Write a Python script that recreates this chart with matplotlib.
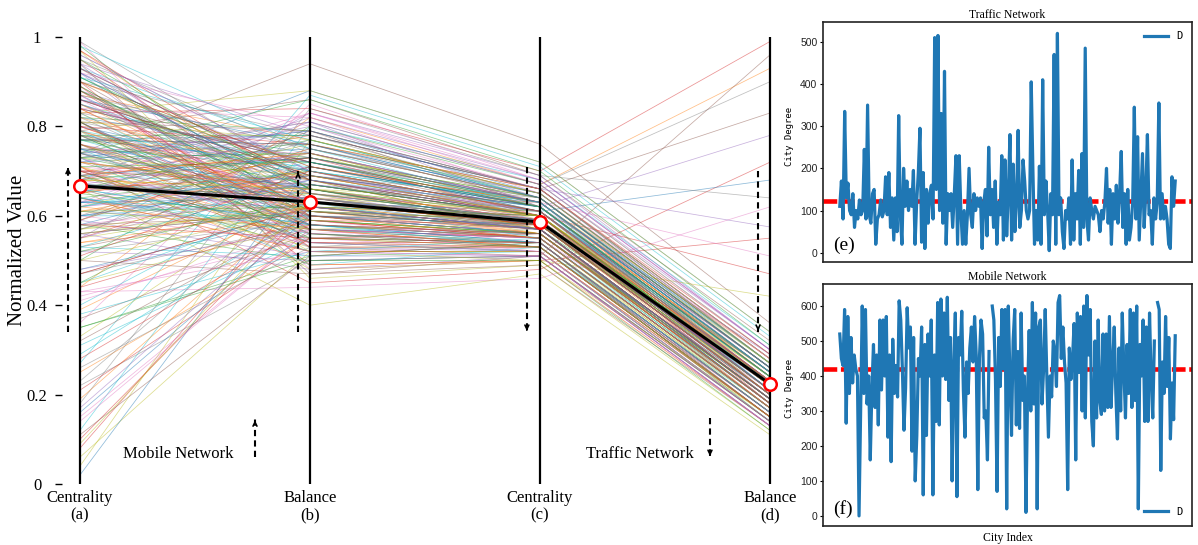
import numpy as np
import matplotlib
matplotlib.use("Agg")
import matplotlib.pyplot as plt
from matplotlib.font_manager import FontProperties

# ---------------- data ----------------
axis_labels = ["Centrality\n(a)", "Balance\n(b)", "Centrality\n(c)", "Balance\n(d)"]
ytick_values = [0, 0.2, 0.4, 0.6, 0.8, 1]
ytick_labels = ["0", "0.2", "0.4", "0.6", "0.8", "1"]

centrality_mobile = [
    0.77, 0.69, 0.91, 0.95, 0.88, 0.72, 0.64, 0.81, 0.55, 0.12,
    0.86, 0.70, 0.58, 0.83, 0.60, 0.47, 0.99, 0.74, 0.66, 0.31,
    0.68, 0.44, 0.85, 0.08, 0.92, 0.79, 0.63, 0.52, 0.97, 0.75,
    0.67, 0.19, 0.82, 0.71, 0.62, 0.89, 0.36, 0.78, 0.57, 0.93,
    0.96, 0.80, 0.69, 0.65, 0.76, 0.50, 0.87, 0.73, 0.04, 0.60,
    0.77, 0.61, 0.98, 0.90, 0.55, 0.74, 0.42, 0.84, 0.66, 0.27,
    0.67, 0.76, 0.45, 0.72, 0.63, 0.81, 0.15, 0.70, 0.88, 0.53,
    0.82, 0.71, 0.50, 0.86, 0.59, 0.94, 0.68, 0.78, 0.33, 0.64,
    0.66, 0.39, 0.75, 0.10, 0.73, 0.85, 0.62, 0.57, 0.79, 0.91,
    0.48, 0.87, 0.70, 0.68, 0.84, 0.56, 0.92, 0.22, 0.77, 0.63,
    0.80, 0.54, 0.73, 0.81, 0.65, 0.74, 0.58, 0.95, 0.06, 0.69,
    0.72, 0.97, 0.64, 0.89, 0.61, 0.77, 0.43, 0.67, 0.83, 0.29,
    0.93, 0.71, 0.66, 0.76, 0.52, 0.86, 0.69, 0.18, 0.79, 0.60,
    0.02, 0.68, 0.81, 0.84, 0.74, 0.37, 0.62, 0.88, 0.56, 0.78,
    0.63, 0.25, 0.78, 0.70, 0.59, 0.90, 0.75, 0.47, 0.66, 0.85,
    0.58, 0.83, 0.91, 0.47, 0.69, 0.76, 0.14, 0.88, 0.62, 0.73,
    0.79, 0.65, 0.35, 0.97, 0.72, 0.53, 0.86, 0.60, 0.81, 0.40,
    0.67, 0.90, 0.74, 0.21, 0.56, 0.84, 0.70, 0.93, 0.45, 0.62,
    0.87, 0.59, 0.78, 0.66, 0.94, 0.11, 0.71, 0.82, 0.50, 0.75,
    0.73, 0.64, 0.89, 0.55, 0.80, 0.32, 0.68, 0.99, 0.61, 0.77,
    0.60, 0.85, 0.73, 0.44, 0.92, 0.69, 0.79, 0.26, 0.65, 0.83,
    0.77, 0.54, 0.95, 0.70, 0.63, 0.86, 0.41, 0.74, 0.57, 0.91,
    0.16, 0.82, 0.68, 0.88, 0.75, 0.59, 0.96, 0.64, 0.72, 0.38,
    0.81, 0.69, 0.52, 0.93, 0.66, 0.78, 0.84, 0.23, 0.71, 0.62,
    0.74, 0.90, 0.61, 0.80, 0.48, 0.67, 0.87, 0.57, 0.76, 0.98,
    0.63, 0.79, 0.35, 0.70, 0.85, 0.58, 0.73, 0.90, 0.09, 0.66,
    0.86, 0.72, 0.65, 0.51, 0.94, 0.78, 0.60, 0.83, 0.69, 0.45,
    0.75, 0.61, 0.88, 0.28, 0.67, 0.81, 0.92, 0.56, 0.73, 0.64,
    0.69, 0.84, 0.77, 0.58, 0.17, 0.90, 0.66, 0.74, 0.81, 0.53,
    0.92, 0.62, 0.71, 0.80, 0.55, 0.76, 0.43, 0.87, 0.68, 0.79,
]
balance_mobile = [
    0.78, 0.74, 0.66, 0.60, 0.72, 0.58, 0.52, 0.70, 0.63, 0.80,
    0.69, 0.57, 0.50, 0.84, 0.68, 0.62, 0.48, 0.76, 0.65, 0.55,
    0.88, 0.82, 0.64, 0.67, 0.54, 0.86, 0.73, 0.59, 0.46, 0.71,
    0.61, 0.64, 0.79, 0.45, 0.67, 0.60, 0.85, 0.56, 0.61, 0.75,
    0.70, 0.62, 0.52, 0.73, 0.66, 0.47, 0.58, 0.81, 0.77, 0.64,
    0.76, 0.66, 0.59, 0.49, 0.83, 0.61, 0.55, 0.72, 0.53, 0.87,
    0.65, 0.58, 0.71, 0.66, 0.60, 0.79, 0.57, 0.68, 0.63, 0.51,
    0.74, 0.54, 0.80, 0.69, 0.75, 0.47, 0.60, 0.70, 0.67, 0.56,
    0.58, 0.64, 0.72, 0.62, 0.53, 0.68, 0.83, 0.71, 0.48, 0.66,
    0.60, 0.77, 0.55, 0.78, 0.72, 0.61, 0.65, 0.50, 0.73, 0.62,
    0.69, 0.59, 0.63, 0.57, 0.82, 0.94, 0.64, 0.74, 0.52, 0.67,
    0.75, 0.62, 0.70, 0.53, 0.58, 0.76, 0.44, 0.66, 0.88, 0.61,
    0.68, 0.49, 0.77, 0.63, 0.50, 0.72, 0.57, 0.84, 0.65, 0.60,
    0.71, 0.66, 0.55, 0.59, 0.79, 0.56, 0.69, 0.62, 0.62, 0.73,
    0.64, 0.55, 0.78, 0.67, 0.51, 0.61, 0.74, 0.58, 0.40, 0.70,
    0.71, 0.59, 0.68, 0.62, 0.80, 0.54, 0.57, 0.65, 0.74, 0.49,
    0.57, 0.73, 0.51, 0.66, 0.81, 0.63, 0.60, 0.77, 0.52, 0.67,
    0.64, 0.69, 0.86, 0.55, 0.48, 0.72, 0.59, 0.62, 0.58, 0.70,
    0.63, 0.75, 0.56, 0.69, 0.78, 0.51, 0.66, 0.60, 0.62, 0.54,
    0.79, 0.52, 0.61, 0.71, 0.65, 0.60, 0.83, 0.68, 0.57, 0.63,
    0.67, 0.61, 0.74, 0.59, 0.70, 0.56, 0.64, 0.53, 0.76, 0.58,
    0.72, 0.62, 0.66, 0.54, 0.81, 0.69, 0.57, 0.60, 0.65, 0.77,
    0.60, 0.68, 0.73, 0.57, 0.63, 0.79, 0.70, 0.55, 0.66, 0.52,
    0.58, 0.74, 0.64, 0.68, 0.52, 0.61, 0.82, 0.67, 0.59, 0.72,
    0.66, 0.71, 0.62, 0.76, 0.57, 0.64, 0.59, 0.69, 0.61, 0.75,
    0.69, 0.63, 0.50, 0.73, 0.67, 0.60, 0.56, 0.78, 0.64, 0.58,
    0.76, 0.65, 0.59, 0.70, 0.62, 0.68, 0.54, 0.73, 0.57, 0.63,
    0.62, 0.70, 0.66, 0.58, 0.74, 0.53, 0.80, 0.61, 0.69, 0.57,
    0.73, 0.60, 0.67, 0.55, 0.62, 0.71, 0.64, 0.58, 0.77, 0.68,
    0.65, 0.57, 0.72, 0.63, 0.68, 0.60, 0.52, 0.75, 0.66, 0.70,
]
centrality_traffic = [
    0.66, 0.63, 0.60, 0.56, 0.64, 0.55, 0.53, 0.61, 0.58, 0.68,
    0.62, 0.55, 0.51, 0.70, 0.60, 0.57, 0.50, 0.65, 0.59, 0.54,
    0.72, 0.67, 0.58, 0.60, 0.53, 0.69, 0.63, 0.56, 0.49, 0.62,
    0.57, 0.59, 0.66, 0.48, 0.60, 0.56, 0.68, 0.54, 0.57, 0.64,
    0.61, 0.57, 0.52, 0.63, 0.59, 0.49, 0.55, 0.67, 0.65, 0.58,
    0.64, 0.58, 0.56, 0.50, 0.69, 0.57, 0.52, 0.62, 0.53, 0.71,
    0.59, 0.55, 0.62, 0.59, 0.56, 0.66, 0.54, 0.60, 0.58, 0.52,
    0.63, 0.53, 0.67, 0.60, 0.64, 0.51, 0.56, 0.61, 0.60, 0.54,
    0.55, 0.58, 0.63, 0.57, 0.52, 0.61, 0.68, 0.62, 0.50, 0.59,
    0.56, 0.65, 0.54, 0.66, 0.62, 0.57, 0.59, 0.51, 0.64, 0.58,
    0.61, 0.55, 0.58, 0.55, 0.68, 0.76, 0.58, 0.63, 0.52, 0.60,
    0.65, 0.56, 0.60, 0.53, 0.55, 0.63, 0.46, 0.58, 0.72, 0.57,
    0.60, 0.50, 0.64, 0.58, 0.51, 0.62, 0.55, 0.69, 0.59, 0.56,
    0.62, 0.59, 0.53, 0.55, 0.66, 0.54, 0.61, 0.57, 0.57, 0.63,
    0.58, 0.53, 0.66, 0.60, 0.51, 0.57, 0.63, 0.56, 0.47, 0.61,
    0.62, 0.58, 0.57, 0.60, 0.64, 0.52, 0.55, 0.61, 0.59, 0.53,
    0.56, 0.63, 0.54, 0.58, 0.62, 0.60, 0.57, 0.65, 0.50, 0.61,
    0.59, 0.60, 0.70, 0.56, 0.51, 0.61, 0.58, 0.57, 0.55, 0.63,
    0.57, 0.64, 0.53, 0.62, 0.66, 0.54, 0.59, 0.56, 0.60, 0.52,
    0.65, 0.52, 0.59, 0.63, 0.57, 0.58, 0.67, 0.60, 0.54, 0.61,
    0.60, 0.56, 0.62, 0.55, 0.59, 0.53, 0.63, 0.56, 0.66, 0.54,
    0.61, 0.58, 0.57, 0.54, 0.67, 0.60, 0.52, 0.59, 0.56, 0.64,
    0.58, 0.57, 0.64, 0.53, 0.61, 0.62, 0.60, 0.57, 0.63, 0.55,
    0.54, 0.62, 0.59, 0.60, 0.51, 0.58, 0.65, 0.61, 0.56, 0.63,
    0.58, 0.63, 0.60, 0.66, 0.55, 0.57, 0.54, 0.64, 0.59, 0.62,
    0.62, 0.56, 0.50, 0.60, 0.63, 0.55, 0.58, 0.64, 0.61, 0.53,
    0.64, 0.60, 0.56, 0.61, 0.57, 0.59, 0.52, 0.62, 0.58, 0.55,
    0.57, 0.61, 0.58, 0.56, 0.63, 0.51, 0.66, 0.59, 0.60, 0.54,
    0.63, 0.55, 0.60, 0.54, 0.57, 0.61, 0.59, 0.56, 0.65, 0.62,
    0.59, 0.53, 0.62, 0.58, 0.61, 0.57, 0.51, 0.64, 0.60, 0.63,
]
balance_traffic = [
    0.28, 0.25, 0.22, 0.18, 0.26, 0.17, 0.16, 0.23, 0.20, 0.31,
    0.24, 0.17, 0.14, 0.99, 0.21, 0.19, 0.13, 0.27, 0.21, 0.16,
    0.34, 0.93, 0.20, 0.22, 0.15, 0.32, 0.25, 0.18, 0.12, 0.24,
    0.19, 0.21, 0.27, 0.72, 0.22, 0.18, 0.30, 0.16, 0.19, 0.26,
    0.23, 0.19, 0.14, 0.25, 0.20, 0.13, 0.17, 0.90, 0.27, 0.20,
    0.26, 0.20, 0.17, 0.55, 0.30, 0.18, 0.15, 0.23, 0.15, 0.33,
    0.21, 0.17, 0.24, 0.21, 0.18, 0.83, 0.16, 0.22, 0.20, 0.14,
    0.25, 0.15, 0.29, 0.22, 0.26, 0.96, 0.18, 0.23, 0.22, 0.16,
    0.17, 0.20, 0.25, 0.19, 0.14, 0.23, 0.30, 0.24, 0.42, 0.21,
    0.18, 0.27, 0.16, 0.28, 0.78, 0.19, 0.21, 0.13, 0.26, 0.20,
    0.68, 0.17, 0.20, 0.17, 0.30, 0.36, 0.20, 0.25, 0.14, 0.22,
    0.27, 0.18, 0.22, 0.15, 0.17, 0.25, 0.62, 0.20, 0.34, 0.19,
    0.22, 0.13, 0.26, 0.20, 0.14, 0.24, 0.17, 0.64, 0.21, 0.18,
    0.24, 0.21, 0.15, 0.17, 0.575, 0.16, 0.23, 0.19, 0.19, 0.25,
    0.20, 0.15, 0.28, 0.47, 0.13, 0.19, 0.51, 0.18, 0.11, 0.23,
    0.22, 0.19, 0.23, 0.18, 0.27, 0.15, 0.21, 0.20, 0.24, 0.17,
    0.20, 0.24, 0.14, 0.22, 0.29, 0.19, 0.17, 0.26, 0.15, 0.21,
    0.23, 0.20, 0.31, 0.19, 0.13, 0.25, 0.22, 0.18, 0.16, 0.26,
    0.18, 0.28, 0.15, 0.23, 0.27, 0.16, 0.21, 0.19, 0.25, 0.14,
    0.27, 0.15, 0.20, 0.26, 0.19, 0.22, 0.29, 0.21, 0.17, 0.24,
    0.21, 0.18, 0.25, 0.17, 0.22, 0.16, 0.24, 0.20, 0.28, 0.15,
    0.25, 0.21, 0.18, 0.16, 0.30, 0.23, 0.14, 0.22, 0.19, 0.27,
    0.20, 0.17, 0.26, 0.15, 0.23, 0.24, 0.21, 0.19, 0.27, 0.18,
    0.16, 0.25, 0.21, 0.23, 0.13, 0.20, 0.28, 0.24, 0.18, 0.22,
    0.20, 0.24, 0.22, 0.29, 0.17, 0.19, 0.16, 0.26, 0.23, 0.21,
    0.24, 0.18, 0.12, 0.21, 0.26, 0.17, 0.20, 0.25, 0.22, 0.15,
    0.26, 0.23, 0.19, 0.22, 0.18, 0.21, 0.14, 0.24, 0.20, 0.17,
    0.19, 0.23, 0.21, 0.18, 0.25, 0.14, 0.28, 0.22, 0.24, 0.16,
    0.25, 0.17, 0.22, 0.15, 0.19, 0.23, 0.21, 0.18, 0.27, 0.24,
    0.21, 0.15, 0.24, 0.20, 0.23, 0.19, 0.13, 0.26, 0.22, 0.25,
]
mean_values = [0.667, 0.631, 0.586, 0.224]

traffic_degree = [
    110, 170, 80, 335, 130, 165, 100, 90, 140, 60, 100, 80, 125, 90, 100, 245, 80, 350, 90, 70,
    140, 150, 20, 80, 90, 125, 85, 100, 180, 90, 190, 60, 130, 30, 130, 50, 325, 90, 20, 200,
    110, 170, 100, 150, 110, 195, 20, 120, 190, 295, 25, 190, 10, 150, 70, 140, 160, 80, 510, 150,
    515, 100, 330, 70, 430, 20, 140, 100, 140, 60, 140, 230, 20, 230, 100, 20, 100, 20, 90, 200,
    90, 60, 140, 100, 130, 110, 130, 10, 120, 150, 40, 250, 90, 150, 60, 170, 20, 120, 90, 230,
    30, 220, 40, 140, 280, 30, 210, 50, 120, 290, 60, 100, 220, 170, 100, 80, 100, 405, 200, 20,
    100, 30, 205, 20, 410, 90, 170, 100, 5, 140, 90, 470, 20, 520, 90, 130, 50, 10, 100, 80,
    130, 20, 220, 30, 140, 80, 195, 20, 235, 60, 485, 80, 30, 130, 100, 80, 110, 100, 90, 50,
    100, 80, 120, 200, 70, 150, 20, 140, 80, 160, 70, 140, 240, 60, 140, 20, 150, 30, 60, 120,
    345, 80, 275, 30, 130, 235, 60, 140, 280, 90, 100, 20, 130, 80, 120, 355, 80, 140, 80, 110,
    80, 20, 10, 180, 110, 170,
]
nan = float("nan")
mobile_degree = [
    520, 450, 430, 590, 265, 570, 350, 510, 380, 460, 420, 400, 0, 290, 600, 350, 590, 320, 400, 160,
    360, 490, 310, 460, 260, 560, 360, 560, 400, 570, 225, 460, 155, 505, 350, 430, 340, 615, 560, 420,
    245, 365, 595, 480, 540, 185, 510, 100, 230, 450, 400, 540, 60, 490, 230, 520, 400, 560, 60, 460,
    270, 610, 260, 620, 400, 580, 390, 625, 330, 510, 100, 420, 580, 55, 510, 460, 585, 360, 225, 440,
    350, 480, 540, 440, 570, 460, 75, 450, 560, 520, 280, 300, 160, 470, nan, 600, 560, 390, 70, 510,
    370, 590, 420, 590, 20, 600, 400, 230, 500, 590, 260, 470, 250, 580, 330, 400, 10, 350, 530, 300,
    610, 320, 580, 20, 540, 560, 320, 420, 590, 400, 225, 400, 340, 500, 470, 370, 610, 630, 450, 540,
    440, 380, 75, 480, 390, 450, 550, 160, 580, 410, 570, 300, 600, 280, 630, 460, 590, 270, 200, 500,
    280, 560, 330, 290, 520, 300, 520, 310, 570, 310, 430, 540, 350, 220, 480, 300, 580, 420, 280, 490,
    350, 590, 310, 580, 330, 600, 20, 490, 400, 560, 270, 540, 270, 580, 390, 280, 500, nan, 610, 590,
    130, 440, 350, 570, 370, 510, 220, 380, 275, 515,
]
traffic_avg = 122
mobile_avg = 421

# ---------------- figure ----------------
serif = "Liberation Serif"
mono = "DejaVu Sans Mono"
W, H = 1198, 545
fig = plt.figure(figsize=(W / 100, H / 100), dpi=100)

ax = fig.add_axes([62 / W, 61 / H, (773 - 62) / W, 447 / H])
xs = np.arange(len(axis_labels))
colors = plt.rcParams["axes.prop_cycle"].by_key()["color"]
for i in range(len(centrality_mobile)):
    vals = [centrality_mobile[i], balance_mobile[i], centrality_traffic[i], balance_traffic[i]]
    ax.plot(xs, vals, color=colors[i % 10], lw=0.55, alpha=0.5, zorder=1)
for x in xs:
    ax.axvline(x, color="black", lw=1.6, zorder=2)
ax.plot(xs, mean_values, color="black", lw=2.2, marker="o", ms=9,
        mfc="white", mec="red", mew=1.8, zorder=5, clip_on=False)

ax.set_xlim(-0.078, 3.013)
ax.set_ylim(0, 1)
for s in ax.spines.values():
    s.set_visible(False)
ax.set_xticks(xs)
ax.set_xticklabels(axis_labels, fontfamily=serif, fontsize=12, linespacing=1.15)
ax.tick_params(axis="x", length=0, pad=4)
ax.set_yticks(ytick_values)
ax.set_yticklabels(ytick_labels, fontfamily=serif, fontsize=12, ha="center")
ax.tick_params(axis="y", direction="out", length=5, width=1, pad=13)
fig.text(18 / W, 1 - 250 / H, "Normalized Value", rotation=90, ha="center", va="center",
         fontfamily=serif, fontsize=15)

def dashed_arrow(x, y0, y1, lw=1.5):
    ax.plot([x, x], [y0, y1], color="black", lw=lw, ls=(0, (3, 2)), zorder=6)
    d = 0.012 if y1 > y0 else -0.012
    ax.annotate("", xy=(x, y1 + d * 0.3), xytext=(x, y1 - d),
                arrowprops=dict(arrowstyle="->", lw=1.2, color="black", mutation_scale=7),
                zorder=6)

dashed_arrow(-0.052, 0.34, 0.71)
dashed_arrow(0.948, 0.34, 0.70)
dashed_arrow(1.943, 0.71, 0.34)
dashed_arrow(2.948, 0.70, 0.34)
dashed_arrow(0.761, 0.06, 0.145)
dashed_arrow(2.739, 0.147, 0.06)

ax.text(0.426, 0.067, "Mobile Network", ha="center", va="center", fontfamily=serif, fontsize=12)
ax.text(2.435, 0.067, "Traffic Network", ha="center", va="center", fontfamily=serif, fontsize=12)

# ---------------- right panels ----------------
def panel(rect, series, avg, ylim, yticks, title, tag, legend_loc, ylab_y, xlabel=None):
    a = fig.add_axes(rect)
    a.plot(np.arange(len(series)), series, color="#1f77b4", lw=2.3, label="D", zorder=3)
    a.axhline(avg, color="red", lw=3.3, ls=(0, (3, 0.8)), zorder=2)
    a.set_ylim(*ylim)
    a.set_xticks([])
    a.set_yticks(yticks)
    a.set_yticklabels([str(t) for t in yticks], fontfamily="Liberation Sans", fontsize=7.5,
                      color="#222222")
    a.tick_params(axis="y", length=2, pad=2)
    for s in a.spines.values():
        s.set_linewidth(1.2)
        s.set_color("#222222")
    a.set_title(title, fontfamily=serif, fontsize=8.5, pad=3)
    if xlabel:
        a.set_xlabel(xlabel, fontfamily=serif, fontsize=8.5, labelpad=4)
    a.text(0.027, 0.07, tag, transform=a.transAxes, fontfamily=serif, fontsize=14,
           va="center", ha="left")
    a.legend(loc=legend_loc, frameon=False, prop=FontProperties(family=mono, size=7.5),
             handlelength=2.3, borderaxespad=0.5)
    fig.text(790 / W, 1 - ylab_y / H, "City Degree", rotation=90, ha="center", va="center",
             fontfamily=mono, fontsize=6.5)
    return a

panel([823 / W, (H - 262) / H, 369 / W, 240 / H], traffic_degree, traffic_avg, (-22, 547),
      [0, 100, 200, 300, 400, 500], "Traffic Network", "(e)", "upper right", 136)
panel([823 / W, (H - 526) / H, 369 / W, 242 / H], mobile_degree, mobile_avg, (-29, 663),
      [0, 100, 200, 300, 400, 500, 600], "Mobile Network", "(f)", "lower right", 388,
      xlabel="City Index")

fig.savefig("out.png", dpi=100)
